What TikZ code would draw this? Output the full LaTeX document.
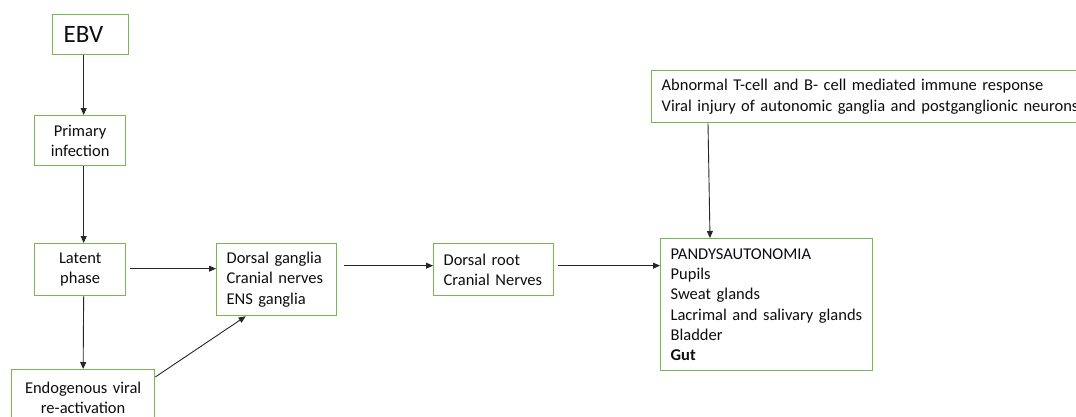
\documentclass[tikz,border=0pt]{standalone}
\usepackage{fontspec}
\setmainfont{Carlito}
\usetikzlibrary{arrows.meta, positioning, calc}
\definecolor{boxgreen}{RGB}{120,182,84}
\tikzstyle{box} = [rectangle, draw=boxgreen, line width=1.3pt, anchor=north west, inner ysep=0pt, text=black!95, font=\fontsize{16.5}{20.2}\selectfont]
\tikzstyle{leftbox} = [box, align=left, inner xsep=10pt]
\tikzstyle{midbox} = [box, align=center, inner xsep=0pt]
\tikzstyle{arrow} = [line width=0.9pt, draw=black!85, -{Triangle[length=7pt,width=6pt]}]

\begin{document}
\begin{tikzpicture}[x=1pt, y=-1pt]
        \clip (0,0) rectangle (1076,416);

        % Left column
        \node (ebv) [leftbox, inner xsep=11pt, text width=54pt, minimum height=40pt, font=\fontsize{25}{30}\selectfont] at (52,14) {EBV};
        \node (prim) [midbox, text width=91pt, minimum height=50pt] at (34,115) {Primary\\infection};
        \node (latent) [midbox, text width=91pt, minimum height=52pt] at (34,243) {Latent\\phase};
        \node (endo) [midbox, text width=143pt, minimum height=56pt] at (11,369) {Endogenous viral\\re-activation};

        % Ganglia and roots (Middle)
        \node (dgang) [leftbox, text width=100pt, minimum height=72pt] at (216,243) {Dorsal ganglia\\Cranial nerves\\ENS ganglia};
        \node (droot) [leftbox, text width=100pt, minimum height=52pt] at (433,243) {Dorsal root\\Cranial Nerves};

        % Outcome (Right)
        \node (immune) [leftbox, text width=420pt, minimum height=52pt] at (651,70) {Abnormal T-cell and B- cell mediated immune response\\Viral injury of autonomic ganglia and postganglionic neurons};
        \node (pandy) [leftbox, text width=192pt, minimum height=132pt] at (660,238) {PANDYSAUTONOMIA\\Pupils\\Sweat glands\\Lacrimal and salivary glands\\Bladder\\\textbf{Gut}};

        % Arrows
        \draw [arrow] ([xshift=-7pt]ebv.south) -- ([xshift=3.5pt]prim.north);
        \draw [arrow] ([xshift=3.5pt]prim.south) -- ([xshift=3.5pt]latent.north);
        \draw [arrow] ([xshift=3.5pt]latent.south) -- (endo.north);

        \draw [arrow] ([xshift=4pt, yshift=1pt]latent.east) -- ([yshift=11pt]dgang.west);
        \draw [arrow] ([yshift=-8pt]endo.north east) -- ([xshift=-31pt]dgang.south);
        \draw [arrow] ([xshift=7pt, yshift=14pt]dgang.east) -- ([yshift=4pt]droot.west);
        \draw [arrow] ([xshift=4pt, yshift=4pt]droot.east) -- ([yshift=39pt]pandy.west);

        \draw [arrow] ([xshift=57pt]immune.south west) -- ([xshift=50pt]pandy.north west);

    \end{tikzpicture}
\end{document}
